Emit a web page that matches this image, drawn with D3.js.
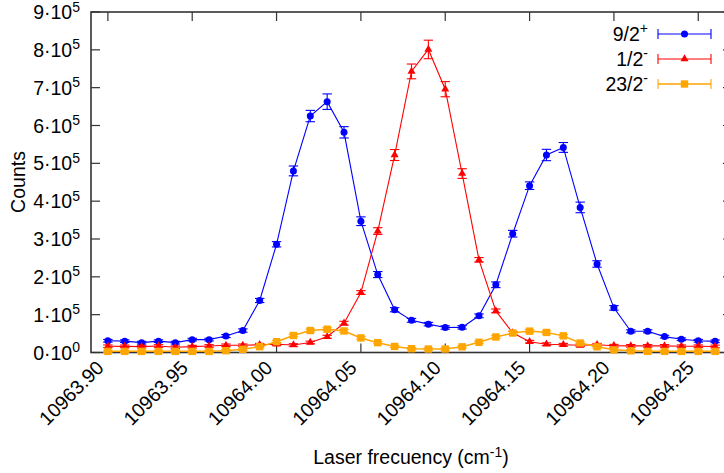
<!DOCTYPE html>
<html>
<head>
<meta charset="utf-8">
<script src="https://d3js.org/d3.v7.min.js"></script>
<style>
  body { margin: 0; background: #fff; }
  text { font-family: "Liberation Sans", Arial, sans-serif; fill: #000; }
</style>
</head>
<body>
<div id="chart"></div>
<script>
// laser frequency (cm^-1)
var freq = [10963.90, 10963.91, 10963.92, 10963.93, 10963.94, 10963.95, 10963.96, 10963.97, 10963.98, 10963.99,
            10964.00, 10964.01, 10964.02, 10964.03, 10964.04, 10964.05, 10964.06, 10964.07, 10964.08, 10964.09,
            10964.10, 10964.11, 10964.12, 10964.13, 10964.14, 10964.15, 10964.16, 10964.17, 10964.18, 10964.19,
            10964.20, 10964.21, 10964.22, 10964.23, 10964.24, 10964.25, 10964.26];

// counts, 9/2+
var counts92 = [31000, 30000, 26000, 30000, 26000, 34000, 34000, 43500, 58000, 137500,
                286000, 480000, 625000, 663000, 582000, 347000, 206000, 113000, 85000, 75000,
                66000, 66500, 97000, 179000, 314000, 441000, 522000, 542000, 383500, 234000,
                118000, 56000, 56000, 42000, 35000, 31000, 29500];
var err92 = [3500, 3500, 3500, 3500, 3500, 3500, 3500, 4000, 4500, 5500,
             7000, 13000, 15000, 20500, 15000, 11500, 8000, 5500, 5000, 4500,
             4500, 4500, 5000, 7500, 8800, 10000, 15000, 13000, 14000, 8500,
             6000, 4000, 4000, 3500, 3500, 3500, 3500];

// counts, 1/2-
var counts12 = [16500, 16300, 15400, 17200, 13700, 15400, 17200, 19000, 19000, 20600,
                22000, 19800, 26500, 41500, 77500, 158500, 321000, 522000, 743000, 801000,
                696000, 473000, 245000, 110000, 52000, 28600, 22000, 20600, 19000, 20600,
                18000, 17500, 17500, 17500, 16500, 16500, 16000];
var err12 = [3500, 3500, 3500, 3500, 3500, 3500, 3500, 3500, 3500, 3500,
             3500, 3500, 3500, 4000, 5000, 5000, 8800, 14500, 19500, 24500,
             20000, 12800, 6000, 5000, 4000, 3500, 3500, 3500, 3500, 3500,
             3500, 3500, 3500, 3500, 3500, 3500, 3500];

// counts, 23/2-
var counts232 = [3000, 3000, 3000, 3000, 3000, 3000, 3000, 4800, 8400, 15400,
                 28500, 45000, 58000, 61500, 57000, 38500, 26000, 16000, 10000, 9200,
                 9200, 15000, 27000, 41000, 51500, 56500, 53000, 44000, 25000, 15000,
                 7000, 4500, 3000, 3000, 3000, 3000, 3000];
var err232 = [3000, 3000, 3000, 3000, 3000, 3000, 3000, 3000, 3000, 3000,
              3000, 3500, 4000, 4000, 4000, 3500, 3000, 3000, 3000, 3000,
              3000, 3000, 3000, 3500, 4000, 4000, 4000, 3500, 3000, 3000,
              3000, 3000, 3000, 3000, 3000, 3000, 3000];

var xTicks = [10963.90, 10963.95, 10964.00, 10964.05, 10964.10, 10964.15, 10964.20, 10964.25];
var yTicks = [0, 100000, 200000, 300000, 400000, 500000, 600000, 700000, 800000, 900000];

var series = [
  {label: "9/2", sup: "+", y: counts92, err: err92, color: "#0000ff", shape: "circle"},
  {label: "1/2", sup: "-", y: counts12, err: err12, color: "#ff0000", shape: "triangle"},
  {label: "23/2", sup: "-", y: counts232, err: err232, color: "#ffa500", shape: "square"}
];

var W = 724, H = 473;
var pLeft = 91, pRight = 732, pTop = 12, pBottom = 352.5;
var fs = 19.5, sfs = 14;

var svg = d3.select("#chart").append("svg")
  .attr("width", W).attr("height", H);

var x = d3.scaleLinear().domain([10963.89, 10964.27]).range([pLeft, pRight]);
var y = d3.scaleLinear().domain([0, 900000]).range([pBottom, pTop]);

// border box
svg.append("rect")
  .attr("x", pLeft).attr("y", pTop)
  .attr("width", pRight - pLeft).attr("height", pBottom - pTop)
  .attr("fill", "none").attr("stroke", "#333").attr("stroke-width", 1.6);

var tickLen = 9;
var ticks = svg.append("g").attr("stroke", "#333").attr("stroke-width", 1.2);
xTicks.forEach(function(t) {
  ticks.append("line").attr("x1", x(t)).attr("x2", x(t)).attr("y1", pBottom).attr("y2", pBottom - tickLen);
  ticks.append("line").attr("x1", x(t)).attr("x2", x(t)).attr("y1", pTop).attr("y2", pTop + tickLen);
});
yTicks.forEach(function(t) {
  ticks.append("line").attr("x1", pLeft).attr("x2", pLeft + tickLen).attr("y1", y(t)).attr("y2", y(t));
  ticks.append("line").attr("x1", pRight).attr("x2", pRight - tickLen).attr("y1", y(t)).attr("y2", y(t));
});

// y tick labels  n·10^k
yTicks.forEach(function(t) {
  var n = t / 100000, e = 5;
  if (t === 0) { e = 0; }
  var tx = svg.append("text")
    .attr("x", 80).attr("y", y(t) + 7)
    .attr("text-anchor", "end").style("font-size", fs + "px");
  tx.append("tspan").text(n + "\u00b710");
  tx.append("tspan").attr("dy", -7.5).style("font-size", sfs + "px").text(e);
});

// x tick labels, rotated
xTicks.forEach(function(t) {
  svg.append("text")
    .attr("transform", "translate(" + (x(t) - 3) + "," + 369 + ") rotate(-45)")
    .attr("text-anchor", "end").style("font-size", fs + "px")
    .text(t.toFixed(2));
});

// axis titles
svg.append("text")
  .attr("transform", "translate(25,182) rotate(-90)")
  .attr("text-anchor", "middle").style("font-size", fs + "px")
  .text("Counts");

var xl = svg.append("text")
  .attr("x", 411).attr("y", 464)
  .attr("text-anchor", "middle").style("font-size", fs + "px");
xl.append("tspan").text("Laser frecuency (cm");
xl.append("tspan").attr("dy", -7.5).style("font-size", sfs + "px").text("-1");
xl.append("tspan").attr("dy", 7.5).text(")");

function marker(g, shape, cx, cy, color) {
  if (shape === "circle") {
    g.append("circle").attr("cx", cx).attr("cy", cy).attr("r", 3.5).attr("fill", color);
  } else if (shape === "triangle") {
    g.append("path").attr("d", d3.symbol().type(d3.symbolTriangle).size(28)())
      .attr("transform", "translate(" + cx + "," + cy + ")").attr("fill", color);
  } else {
    g.append("rect").attr("x", cx - 3.7).attr("y", cy - 3.7)
      .attr("width", 7.4).attr("height", 7.4).attr("fill", color);
  }
}

var cap = 4.7;
series.forEach(function(s) {
  var g = svg.append("g");
  var line = d3.line()
    .x(function(d, i) { return x(freq[i]); })
    .y(function(d) { return y(d); });
  g.append("path").datum(s.y)
    .attr("d", line).attr("fill", "none")
    .attr("stroke", s.color).attr("stroke-width", s.shape === "square" ? 1.5 : 1.1);

  s.y.forEach(function(v, i) {
    var cx = x(freq[i]), y0 = y(v - s.err[i]), y1 = y(v + s.err[i]);
    g.append("line").attr("x1", cx).attr("x2", cx).attr("y1", y0).attr("y2", y1)
      .attr("stroke", s.color).attr("stroke-width", 1.1);
    g.append("line").attr("x1", cx - cap).attr("x2", cx + cap).attr("y1", y0).attr("y2", y0)
      .attr("stroke", s.color).attr("stroke-width", 1.1);
    g.append("line").attr("x1", cx - cap).attr("x2", cx + cap).attr("y1", y1).attr("y2", y1)
      .attr("stroke", s.color).attr("stroke-width", 1.1);
    marker(g, s.shape, cx, y(v), s.color);
  });
});

// legend
var legY = [34, 59, 84];
series.forEach(function(s, i) {
  var ly = legY[i];
  var t = svg.append("text").attr("x", 648).attr("y", ly + 7)
    .attr("text-anchor", "end").style("font-size", fs + "px");
  t.append("tspan").text(s.label);
  t.append("tspan").attr("dy", -8).style("font-size", sfs + "px").text(s.sup);
  var g = svg.append("g");
  g.append("line").attr("x1", 658).attr("x2", 711).attr("y1", ly).attr("y2", ly)
    .attr("stroke", s.color).attr("stroke-width", s.shape === "square" ? 1.5 : 1.1);
  g.append("line").attr("x1", 658).attr("x2", 658).attr("y1", ly - 5).attr("y2", ly + 5)
    .attr("stroke", s.color).attr("stroke-width", 1.1);
  g.append("line").attr("x1", 711).attr("x2", 711).attr("y1", ly - 5).attr("y2", ly + 5)
    .attr("stroke", s.color).attr("stroke-width", 1.1);
  marker(g, s.shape, 684.5, ly, s.color);
});
</script>
</body>
</html>
